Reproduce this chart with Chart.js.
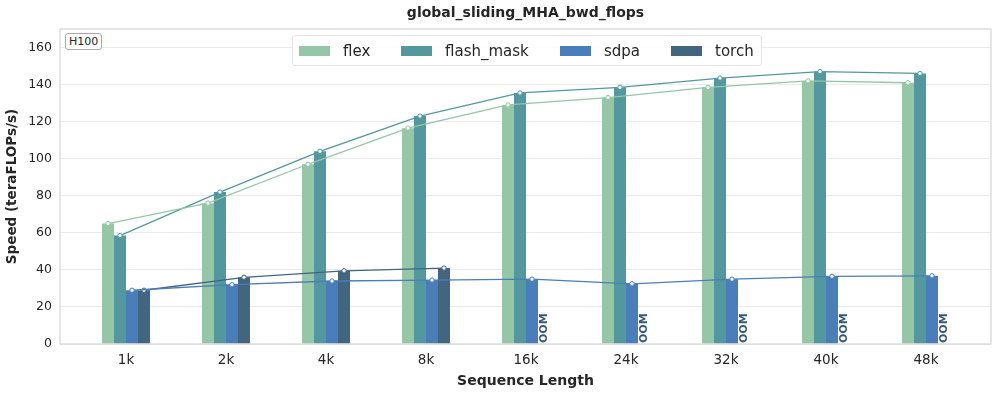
<!DOCTYPE html>
<html lang="en">
<head>
  <meta charset="UTF-8" />
  <title>global_sliding_MHA_bwd_flops</title>
  <script src="https://cdn.jsdelivr.net/npm/chart.js"></script>
  <style>
    body { margin: 0; background: #fff; font-family: "DejaVu Sans", sans-serif; }
    #wrap { position: relative; width: 997px; height: 394px; }
    #title { position: absolute; top: 4px; left: 60px; width: 931px; text-align: center;
      font-weight: bold; font-size: 14px; color: #262626; }
    #gpu { position: absolute; left: 65px; top: 33px; font-size: 11px; color: #262626;
      border: 1px solid #aaa; border-radius: 3px; padding: 0 3px; background: #fff; line-height: 15px; }
    #legend { position: absolute; left: 292px; top: 35px; width: 470px; height: 31px;
      border: 1px solid #e3e3e3; border-radius: 3px; background: rgba(255,255,255,0.85);
      display: flex; align-items: center; font-size: 15px; color: #262626; box-sizing: border-box; }
    .item { position: absolute; display: flex; align-items: center; }
    .patch { width: 31px; height: 10px; margin-right: 13px; }
  </style>
</head>
<body>
  <div id="wrap">
    <canvas id="chartCanvas" width="997" height="394"></canvas>
    <div id="title">global_sliding_MHA_bwd_flops</div>
    <div id="gpu">H100</div>
    <div id="legend"></div>
  </div>

  <script>
    const categories = ["1k", "2k", "4k", "8k", "16k", "24k", "32k", "40k", "48k"];
    const seriesNames = ["flex", "flash_mask", "sdpa", "torch"];
    const flex = [65, 76, 97, 116.5, 129, 133, 138.5, 142, 141];
    const flashMask = [58.5, 82, 104, 123, 135.5, 138.5, 143.5, 147, 146];
    const sdpa = [29, 32, 34, 34.5, 35, 32.5, 35, 36.5, 36.8];
    const torch = [29, 36, 39.5, 41, null, null, null, null, null];
    const yTicks = [0, 20, 40, 60, 80, 100, 120, 140, 160];

    const colors = ["#95c6a6", "#53989f", "#4a7eba", "#426580"];
    const allValues = [flex, flashMask, sdpa, torch];
    // offset of each bar inside a group (fraction of one category)
    const barOffsets = [-0.18, -0.06, 0.06, 0.18];

    // legend
    const legendPos = [6, 108, 267, 378];
    const legend = document.getElementById("legend");
    seriesNames.forEach((n, i) => {
      const it = document.createElement("div");
      it.className = "item";
      it.style.left = legendPos[i] + "px";
      it.innerHTML = `<span class="patch" style="background:${colors[i]}"></span><span>${n}</span>`;
      legend.appendChild(it);
    });

    const datasets = [];
    allValues.forEach((vals, s) => {
      datasets.push({
        type: 'bar',
        label: seriesNames[s],
        data: vals.map((v, i) => ({ x: i, y: v })),
        backgroundColor: colors[s],
        borderWidth: 0,
        barPercentage: 1.0,
        categoryPercentage: 0.48,
        order: 2
      });
    });
    allValues.forEach((vals, s) => {
      datasets.push({
        type: 'line',
        label: seriesNames[s] + "_line",
        data: vals.map((v, i) => ({ x: i + barOffsets[s], y: v })),
        borderColor: colors[s],
        borderWidth: 1.3,
        pointRadius: 2.2,
        pointBackgroundColor: "#eef5f3",
        pointBorderColor: colors[s],
        pointBorderWidth: 1,
        spanGaps: false,
        order: 1
      });
    });

    const oomPlugin = {
      id: 'oom',
      afterDatasetsDraw(chart) {
        const ctx = chart.ctx;
        const meta = chart.getDatasetMeta(3);
        const yBase = chart.scales.y.getPixelForValue(0);
        ctx.save();
        ctx.fillStyle = "#34597a";
        ctx.font = "bold 11px 'DejaVu Sans'";
        ctx.textAlign = "left";
        ctx.textBaseline = "middle";
        torch.forEach((v, i) => {
          if (v === null) {
            const x = meta.data[i].x;
            ctx.save();
            ctx.translate(x, yBase - 1);
            ctx.rotate(-Math.PI / 2);
            ctx.fillText("OOM", 0, 0);
            ctx.restore();
          }
        });
        ctx.restore();
      }
    };

    const frame = {
      id: 'frame',
      afterDatasetsDraw(chart) {
        const a = chart.chartArea, ctx = chart.ctx;
        ctx.save();
        ctx.strokeStyle = "#d5d5d5";
        ctx.lineWidth = 1.2;
        ctx.strokeRect(a.left, a.top, a.right - a.left, a.bottom - a.top);
        ctx.restore();
      }
    };

    new Chart(document.getElementById("chartCanvas").getContext("2d"), {
      data: { datasets },
      plugins: [oomPlugin, frame],
      options: {
        responsive: false,
        animation: false,
        layout: { padding: { top: 29, right: 6, left: 0, bottom: 0 } },
        plugins: { legend: { display: false }, tooltip: { enabled: false } },
        scales: {
          x: {
            type: 'linear',
            offset: false,
            min: -0.66,
            max: 8.65,
            afterFit: s => { s.height = 50; },
            afterBuildTicks: s => { s.ticks = categories.map((c, i) => ({ value: i })); },
            ticks: {
              callback: (v) => categories[v],
              font: { family: "DejaVu Sans", size: 13.5 },
              color: "#262626",
              padding: 8,
              maxRotation: 0
            },
            grid: { display: false, drawTicks: false, offset: false },
            border: { display: false },
            title: {
              display: true,
              text: "Sequence Length",
              font: { family: "DejaVu Sans", size: 14, weight: "bold" },
              color: "#262626"
            }
          },
          y: {
            min: 0,
            max: 170,
            afterFit: s => { s.width = 60; },
            afterBuildTicks: s => { s.ticks = yTicks.map(v => ({ value: v })); },
            ticks: {
              font: { family: "DejaVu Sans", size: 12.5 },
              color: "#262626",
              padding: 8
            },
            grid: { color: "#ebebeb", lineWidth: 1, drawTicks: false },
            border: { display: false },
            title: {
              display: true,
              text: "Speed (teraFLOPs/s)",
              font: { family: "DejaVu Sans", size: 13.5, weight: "bold" },
              color: "#262626"
            }
          }
        }
      }
    });
  </script>
</body>
</html>
